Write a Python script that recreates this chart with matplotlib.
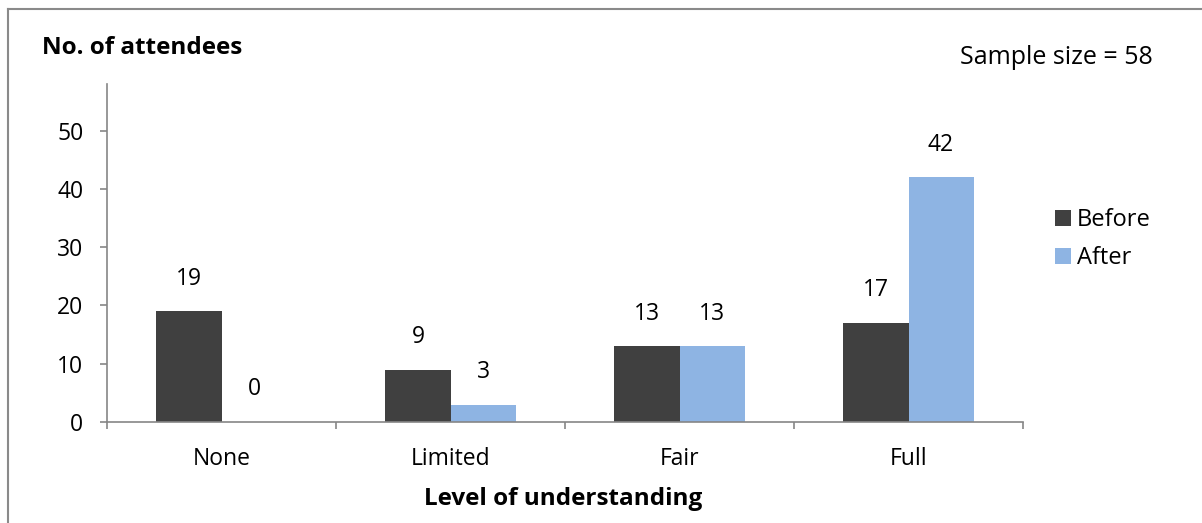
import matplotlib
matplotlib.use("Agg")
import matplotlib.pyplot as plt
from matplotlib.lines import Line2D
import numpy as np

categories = ["None", "Limited", "Fair", "Full"]
before = [19, 9, 13, 17]
after = [0, 3, 13, 42]
series_names = ["Before", "After"]
y_ticks = [0, 10, 20, 30, 40, 50]

DPI = 100
W, H = 1202, 523
FONT = "Open Sans"
fig = plt.figure(figsize=(W / DPI, H / DPI), dpi=DPI)

def fx(px):
    return px / W

def fy(py):
    return 1 - py / H

# outer frame (top and left edges)
frame_col = "#8a8a8a"
fig.add_artist(Line2D([fx(8), fx(8)], [fy(9), fy(523)], color=frame_col, lw=1.5, transform=fig.transFigure))
fig.add_artist(Line2D([fx(8), fx(1202)], [fy(9), fy(9)], color=frame_col, lw=1.5, transform=fig.transFigure))

ax = fig.add_axes([fx(107), fy(422), fx(1023 - 107), (422 - 84) / H])

x = np.arange(len(categories))
bw = 0.284
c_before = "#404040"
c_after = "#8eb4e3"
b1 = ax.bar(x - bw / 2, before, bw, color=c_before, label=series_names[0])
b2 = ax.bar(x + bw / 2, after, bw, color=c_after, label=series_names[1])

for bars, vals in ((b1, before), (b2, after)):
    for rect, v in zip(bars, vals):
        ax.annotate(str(v), (rect.get_x() + rect.get_width() / 2, v),
                    xytext=(0, 23.5), textcoords="offset points",
                    ha="center", va="center", family=FONT, fontsize=16.5, color="black")

ax.set_xlim(-0.5, len(categories) - 0.5)
ax.set_ylim(0, 58)
ax.set_yticks(y_ticks)
ax.set_yticklabels([str(t) for t in y_ticks], family=FONT, fontsize=16.5)

spine_col = "#868686"
for s in ("top", "right"):
    ax.spines[s].set_visible(False)
for s in ("left", "bottom"):
    ax.spines[s].set_color(spine_col)
    ax.spines[s].set_linewidth(1.2)

ax.tick_params(axis="y", direction="out", length=5, color=spine_col, width=1.2, pad=12)
# category ticks sit at group boundaries, labels at group centres
ax.set_xticks(np.arange(-0.5, len(categories)), minor=False)
ax.set_xticklabels([""] * (len(categories) + 1))
ax.set_xticks(x, minor=True)
ax.set_xticklabels(categories, minor=True, family=FONT, fontsize=16.5)
ax.tick_params(axis="x", which="major", direction="out", length=5, color=spine_col, width=1.2)
ax.tick_params(axis="x", which="minor", length=0, pad=18)

fig.text(fx(42), fy(48), "No. of attendees", fontsize=17.5, fontweight="bold",
         family=FONT, ha="left", va="center")
fig.text(fx(1153), fy(57), "Sample size = 58", fontsize=18, family=FONT,
         ha="right", va="center")
fig.text(fx(563), fy(499), "Level of understanding", fontsize=17.5, fontweight="bold",
         family=FONT, ha="center", va="center")

leg = fig.legend(handles=[b1, b2], loc="center left", bbox_to_anchor=(fx(1055), fy(239)),
                 frameon=False, prop=dict(family=FONT, size=17),
                 handlelength=0.68, handleheight=0.65, handletextpad=0.25,
                 labelspacing=0.6, borderaxespad=0, borderpad=0)

fig.savefig("out.png", dpi=DPI)
